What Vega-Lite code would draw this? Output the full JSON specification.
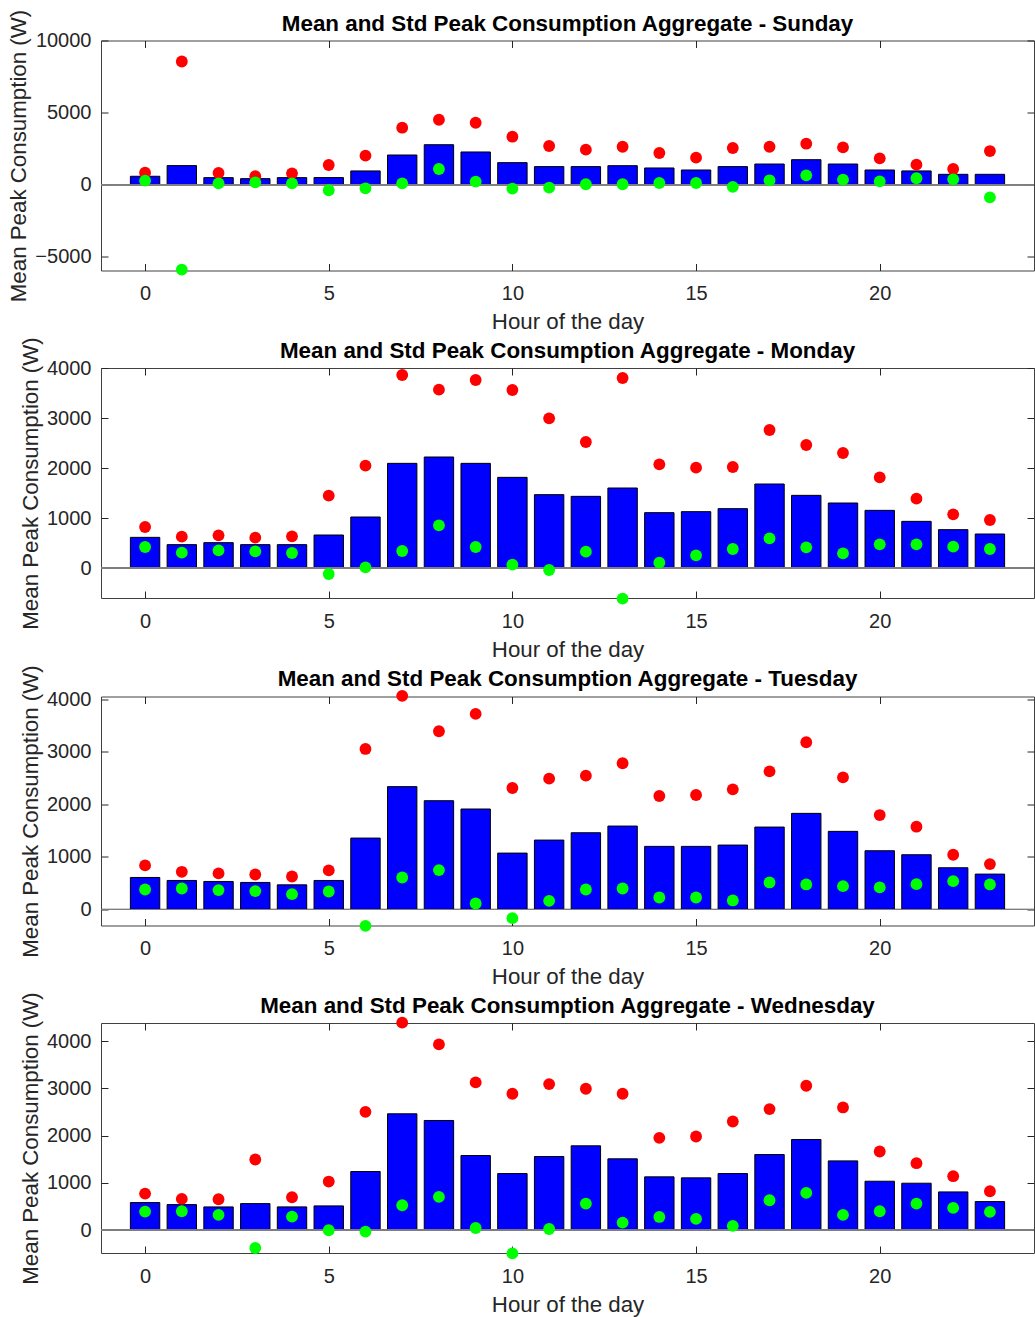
{
  "$schema": "https://vega.github.io/schema/vega-lite/v6.json",
  "padding": {"left": 7, "top": 8.5, "right": 0, "bottom": 0},
  "spacing": 2.5,
  "config": {
    "font": "Liberation Sans",
    "view": {"stroke": "#404040", "strokeWidth": 1},
    "axis": {"grid": false, "domain": false, "tickColor": "#262626", "tickSize": -7, "format": "d", "labelFont": "Liberation Sans", "labelFontSize": 20, "labelColor": "#262626", "titleFont": "Liberation Sans", "titleFontSize": 22.3, "titleFontWeight": "normal", "titleColor": "#262626"},
    "title": {"font": "Liberation Sans", "fontSize": 22.4, "fontWeight": "bold", "color": "#000000", "offset": -26}
  },
  "datasets": {
    "peak": [
      {"day": "Sunday", "hour": 0, "mean": 580, "hi": 830, "lo": 275},
      {"day": "Sunday", "hour": 1, "mean": 1320, "hi": 8545, "lo": -5900},
      {"day": "Sunday", "hour": 2, "mean": 485, "hi": 810, "lo": 90},
      {"day": "Sunday", "hour": 3, "mean": 415, "hi": 580, "lo": 160},
      {"day": "Sunday", "hour": 4, "mean": 485, "hi": 785, "lo": 90},
      {"day": "Sunday", "hour": 5, "mean": 490, "hi": 1360, "lo": -390},
      {"day": "Sunday", "hour": 6, "mean": 950, "hi": 2010, "lo": -255},
      {"day": "Sunday", "hour": 7, "mean": 2055, "hi": 3950, "lo": 90},
      {"day": "Sunday", "hour": 8, "mean": 2770, "hi": 4500, "lo": 1085},
      {"day": "Sunday", "hour": 9, "mean": 2265, "hi": 4295, "lo": 210},
      {"day": "Sunday", "hour": 10, "mean": 1525, "hi": 3325, "lo": -275},
      {"day": "Sunday", "hour": 11, "mean": 1250, "hi": 2680, "lo": -210},
      {"day": "Sunday", "hour": 12, "mean": 1250, "hi": 2425, "lo": 25},
      {"day": "Sunday", "hour": 13, "mean": 1315, "hi": 2630, "lo": 25},
      {"day": "Sunday", "hour": 14, "mean": 1155, "hi": 2195, "lo": 115},
      {"day": "Sunday", "hour": 15, "mean": 1015, "hi": 1870, "lo": 115},
      {"day": "Sunday", "hour": 16, "mean": 1250, "hi": 2540, "lo": -160},
      {"day": "Sunday", "hour": 17, "mean": 1430, "hi": 2630, "lo": 300},
      {"day": "Sunday", "hour": 18, "mean": 1730, "hi": 2840, "lo": 645},
      {"day": "Sunday", "hour": 19, "mean": 1430, "hi": 2585, "lo": 345},
      {"day": "Sunday", "hour": 20, "mean": 1015, "hi": 1825, "lo": 230},
      {"day": "Sunday", "hour": 21, "mean": 950, "hi": 1385, "lo": 440},
      {"day": "Sunday", "hour": 22, "mean": 715, "hi": 1085, "lo": 370},
      {"day": "Sunday", "hour": 23, "mean": 715, "hi": 2330, "lo": -880},
      {"day": "Monday", "hour": 0, "mean": 613, "hi": 820, "lo": 420},
      {"day": "Monday", "hour": 1, "mean": 467, "hi": 627, "lo": 307},
      {"day": "Monday", "hour": 2, "mean": 507, "hi": 653, "lo": 353},
      {"day": "Monday", "hour": 3, "mean": 467, "hi": 607, "lo": 333},
      {"day": "Monday", "hour": 4, "mean": 467, "hi": 633, "lo": 300},
      {"day": "Monday", "hour": 5, "mean": 660, "hi": 1447, "lo": -120},
      {"day": "Monday", "hour": 6, "mean": 1020, "hi": 2047, "lo": 13},
      {"day": "Monday", "hour": 7, "mean": 2093, "hi": 3860, "lo": 340},
      {"day": "Monday", "hour": 8, "mean": 2220, "hi": 3567, "lo": 853},
      {"day": "Monday", "hour": 9, "mean": 2093, "hi": 3760, "lo": 420},
      {"day": "Monday", "hour": 10, "mean": 1813, "hi": 3560, "lo": 67},
      {"day": "Monday", "hour": 11, "mean": 1467, "hi": 2993, "lo": -40},
      {"day": "Monday", "hour": 12, "mean": 1433, "hi": 2520, "lo": 327},
      {"day": "Monday", "hour": 13, "mean": 1600, "hi": 3800, "lo": -613},
      {"day": "Monday", "hour": 14, "mean": 1107, "hi": 2073, "lo": 107},
      {"day": "Monday", "hour": 15, "mean": 1127, "hi": 2007, "lo": 253},
      {"day": "Monday", "hour": 16, "mean": 1187, "hi": 2020, "lo": 380},
      {"day": "Monday", "hour": 17, "mean": 1680, "hi": 2760, "lo": 593},
      {"day": "Monday", "hour": 18, "mean": 1453, "hi": 2460, "lo": 413},
      {"day": "Monday", "hour": 19, "mean": 1300, "hi": 2300, "lo": 293},
      {"day": "Monday", "hour": 20, "mean": 1153, "hi": 1813, "lo": 473},
      {"day": "Monday", "hour": 21, "mean": 933, "hi": 1387, "lo": 473},
      {"day": "Monday", "hour": 22, "mean": 767, "hi": 1073, "lo": 427},
      {"day": "Monday", "hour": 23, "mean": 680, "hi": 960, "lo": 380},
      {"day": "Tuesday", "hour": 0, "mean": 610, "hi": 839, "lo": 381},
      {"day": "Tuesday", "hour": 1, "mean": 553, "hi": 718, "lo": 400},
      {"day": "Tuesday", "hour": 2, "mean": 534, "hi": 687, "lo": 369},
      {"day": "Tuesday", "hour": 3, "mean": 515, "hi": 667, "lo": 350},
      {"day": "Tuesday", "hour": 4, "mean": 470, "hi": 629, "lo": 292},
      {"day": "Tuesday", "hour": 5, "mean": 553, "hi": 744, "lo": 343},
      {"day": "Tuesday", "hour": 6, "mean": 1360, "hi": 3058, "lo": -311},
      {"day": "Tuesday", "hour": 7, "mean": 2340, "hi": 4069, "lo": 610},
      {"day": "Tuesday", "hour": 8, "mean": 2072, "hi": 3395, "lo": 750},
      {"day": "Tuesday", "hour": 9, "mean": 1914, "hi": 3725, "lo": 114},
      {"day": "Tuesday", "hour": 10, "mean": 1074, "hi": 2314, "lo": -165},
      {"day": "Tuesday", "hour": 11, "mean": 1322, "hi": 2492, "lo": 165},
      {"day": "Tuesday", "hour": 12, "mean": 1462, "hi": 2549, "lo": 381},
      {"day": "Tuesday", "hour": 13, "mean": 1589, "hi": 2785, "lo": 400},
      {"day": "Tuesday", "hour": 14, "mean": 1202, "hi": 2161, "lo": 229},
      {"day": "Tuesday", "hour": 15, "mean": 1202, "hi": 2181, "lo": 229},
      {"day": "Tuesday", "hour": 16, "mean": 1227, "hi": 2289, "lo": 172},
      {"day": "Tuesday", "hour": 17, "mean": 1570, "hi": 2632, "lo": 515},
      {"day": "Tuesday", "hour": 18, "mean": 1831, "hi": 3185, "lo": 477},
      {"day": "Tuesday", "hour": 19, "mean": 1488, "hi": 2517, "lo": 445},
      {"day": "Tuesday", "hour": 20, "mean": 1119, "hi": 1799, "lo": 420},
      {"day": "Tuesday", "hour": 21, "mean": 1043, "hi": 1577, "lo": 483},
      {"day": "Tuesday", "hour": 22, "mean": 795, "hi": 1043, "lo": 540},
      {"day": "Tuesday", "hour": 23, "mean": 674, "hi": 865, "lo": 477},
      {"day": "Wednesday", "hour": 0, "mean": 586, "hi": 776, "lo": 395},
      {"day": "Wednesday", "hour": 1, "mean": 543, "hi": 663, "lo": 402},
      {"day": "Wednesday", "hour": 2, "mean": 494, "hi": 656, "lo": 325},
      {"day": "Wednesday", "hour": 3, "mean": 564, "hi": 1496, "lo": -374},
      {"day": "Wednesday", "hour": 4, "mean": 494, "hi": 698, "lo": 289},
      {"day": "Wednesday", "hour": 5, "mean": 515, "hi": 1030, "lo": 0},
      {"day": "Wednesday", "hour": 6, "mean": 1242, "hi": 2504, "lo": -28},
      {"day": "Wednesday", "hour": 7, "mean": 2462, "hi": 4388, "lo": 529},
      {"day": "Wednesday", "hour": 8, "mean": 2321, "hi": 3929, "lo": 705},
      {"day": "Wednesday", "hour": 9, "mean": 1580, "hi": 3125, "lo": 49},
      {"day": "Wednesday", "hour": 10, "mean": 1199, "hi": 2885, "lo": -487},
      {"day": "Wednesday", "hour": 11, "mean": 1559, "hi": 3090, "lo": 28},
      {"day": "Wednesday", "hour": 12, "mean": 1785, "hi": 2991, "lo": 564},
      {"day": "Wednesday", "hour": 13, "mean": 1510, "hi": 2885, "lo": 162},
      {"day": "Wednesday", "hour": 14, "mean": 1129, "hi": 1954, "lo": 282},
      {"day": "Wednesday", "hour": 15, "mean": 1108, "hi": 1982, "lo": 240},
      {"day": "Wednesday", "hour": 16, "mean": 1199, "hi": 2300, "lo": 92},
      {"day": "Wednesday", "hour": 17, "mean": 1601, "hi": 2561, "lo": 635},
      {"day": "Wednesday", "hour": 18, "mean": 1919, "hi": 3055, "lo": 790},
      {"day": "Wednesday", "hour": 19, "mean": 1467, "hi": 2596, "lo": 325},
      {"day": "Wednesday", "hour": 20, "mean": 1037, "hi": 1665, "lo": 402},
      {"day": "Wednesday", "hour": 21, "mean": 995, "hi": 1418, "lo": 564},
      {"day": "Wednesday", "hour": 22, "mean": 811, "hi": 1143, "lo": 473},
      {"day": "Wednesday", "hour": 23, "mean": 607, "hi": 825, "lo": 388}
    ]
  },
  "vconcat": [
    {
      "title": "Mean and Std Peak Consumption Aggregate - Sunday",
      "width": 933, "height": 230,
      "data": {"name": "peak"},
      "transform": [{"filter": "datum.day === 'Sunday'"}],
      "resolve": {"axis": {"x": "independent", "y": "independent"}},
      "layer": [
        {"mark": {"type": "bar", "width": 29.4, "color": "#0000FF", "stroke": "#000000", "strokeWidth": 1},
         "encoding": {
           "x": {"field": "hour", "type": "quantitative", "scale": {"domain": [-1.2, 24.2], "nice": false, "zero": false, "padding": 0}, "axis": {"values": [0, 5, 10, 15, 20], "title": "Hour of the day", "labelPadding": 20, "titlePadding": 7}},
           "y": {"field": "mean", "type": "quantitative", "scale": {"domain": [-5958, 10000], "nice": false, "zero": false}, "axis": {"values": [-5000, 0, 5000, 10000], "title": "Mean Peak Consumption (W)", "labelPadding": 17, "titlePadding": 4}}}},
        {"mark": {"type": "rule", "color": "#7f7f7f", "strokeWidth": 1}, "encoding": {"y": {"datum": 0, "type": "quantitative", "axis": null}}},
        {"mark": {"type": "point", "filled": true, "opacity": 1, "color": "#FF0000", "size": 140},
         "encoding": {"x": {"field": "hour", "type": "quantitative", "axis": null}, "y": {"field": "hi", "type": "quantitative", "axis": null}}},
        {"mark": {"type": "point", "filled": true, "opacity": 1, "color": "#00FF00", "size": 140},
         "encoding": {
           "x": {"field": "hour", "type": "quantitative", "axis": {"orient": "top", "values": [0, 5, 10, 15, 20], "labels": false, "title": null}},
           "y": {"field": "lo", "type": "quantitative", "axis": {"orient": "right", "values": [-5000, 0, 5000, 10000], "labels": false, "title": null}}}}
      ]
    },
    {
      "title": "Mean and Std Peak Consumption Aggregate - Monday",
      "width": 933, "height": 230,
      "data": {"name": "peak"},
      "transform": [{"filter": "datum.day === 'Monday'"}],
      "resolve": {"axis": {"x": "independent", "y": "independent"}},
      "layer": [
        {"mark": {"type": "bar", "width": 29.4, "color": "#0000FF", "stroke": "#000000", "strokeWidth": 1},
         "encoding": {
           "x": {"field": "hour", "type": "quantitative", "scale": {"domain": [-1.2, 24.2], "nice": false, "zero": false, "padding": 0}, "axis": {"values": [0, 5, 10, 15, 20], "title": "Hour of the day", "labelPadding": 20, "titlePadding": 7}},
           "y": {"field": "mean", "type": "quantitative", "scale": {"domain": [-600, 4000], "nice": false, "zero": false}, "axis": {"values": [0, 1000, 2000, 3000, 4000], "title": "Mean Peak Consumption (W)", "labelPadding": 17, "titlePadding": 4}}}},
        {"mark": {"type": "rule", "color": "#7f7f7f", "strokeWidth": 1}, "encoding": {"y": {"datum": 0, "type": "quantitative", "axis": null}}},
        {"mark": {"type": "point", "filled": true, "opacity": 1, "color": "#FF0000", "size": 140},
         "encoding": {"x": {"field": "hour", "type": "quantitative", "axis": null}, "y": {"field": "hi", "type": "quantitative", "axis": null}}},
        {"mark": {"type": "point", "filled": true, "opacity": 1, "color": "#00FF00", "size": 140},
         "encoding": {
           "x": {"field": "hour", "type": "quantitative", "axis": {"orient": "top", "values": [0, 5, 10, 15, 20], "labels": false, "title": null}},
           "y": {"field": "lo", "type": "quantitative", "axis": {"orient": "right", "values": [0, 1000, 2000, 3000, 4000], "labels": false, "title": null}}}}
      ]
    },
    {
      "title": "Mean and Std Peak Consumption Aggregate - Tuesday",
      "width": 933, "height": 229,
      "data": {"name": "peak"},
      "transform": [{"filter": "datum.day === 'Tuesday'"}],
      "resolve": {"axis": {"x": "independent", "y": "independent"}},
      "layer": [
        {"mark": {"type": "bar", "width": 29.4, "color": "#0000FF", "stroke": "#000000", "strokeWidth": 1},
         "encoding": {
           "x": {"field": "hour", "type": "quantitative", "scale": {"domain": [-1.2, 24.2], "nice": false, "zero": false, "padding": 0}, "axis": {"values": [0, 5, 10, 15, 20], "title": "Hour of the day", "labelPadding": 20, "titlePadding": 7}},
           "y": {"field": "mean", "type": "quantitative", "scale": {"domain": [-305, 4057], "nice": false, "zero": false}, "axis": {"values": [0, 1000, 2000, 3000, 4000], "title": "Mean Peak Consumption (W)", "labelPadding": 17, "titlePadding": 4}}}},
        {"mark": {"type": "rule", "color": "#7f7f7f", "strokeWidth": 1}, "encoding": {"y": {"datum": 0, "type": "quantitative", "axis": null}}},
        {"mark": {"type": "point", "filled": true, "opacity": 1, "color": "#FF0000", "size": 140},
         "encoding": {"x": {"field": "hour", "type": "quantitative", "axis": null}, "y": {"field": "hi", "type": "quantitative", "axis": null}}},
        {"mark": {"type": "point", "filled": true, "opacity": 1, "color": "#00FF00", "size": 140},
         "encoding": {
           "x": {"field": "hour", "type": "quantitative", "axis": {"orient": "top", "values": [0, 5, 10, 15, 20], "labels": false, "title": null}},
           "y": {"field": "lo", "type": "quantitative", "axis": {"orient": "right", "values": [0, 1000, 2000, 3000, 4000], "labels": false, "title": null}}}}
      ]
    },
    {
      "title": "Mean and Std Peak Consumption Aggregate - Wednesday",
      "width": 933, "height": 230,
      "data": {"name": "peak"},
      "transform": [{"filter": "datum.day === 'Wednesday'"}],
      "resolve": {"axis": {"x": "independent", "y": "independent"}},
      "layer": [
        {"mark": {"type": "bar", "width": 29.4, "color": "#0000FF", "stroke": "#000000", "strokeWidth": 1},
         "encoding": {
           "x": {"field": "hour", "type": "quantitative", "scale": {"domain": [-1.2, 24.2], "nice": false, "zero": false, "padding": 0}, "axis": {"values": [0, 5, 10, 15, 20], "title": "Hour of the day", "labelPadding": 20, "titlePadding": 7}},
           "y": {"field": "mean", "type": "quantitative", "scale": {"domain": [-480, 4381], "nice": false, "zero": false}, "axis": {"values": [0, 1000, 2000, 3000, 4000], "title": "Mean Peak Consumption (W)", "labelPadding": 17, "titlePadding": 4}}}},
        {"mark": {"type": "rule", "color": "#7f7f7f", "strokeWidth": 1}, "encoding": {"y": {"datum": 0, "type": "quantitative", "axis": null}}},
        {"mark": {"type": "point", "filled": true, "opacity": 1, "color": "#FF0000", "size": 140},
         "encoding": {"x": {"field": "hour", "type": "quantitative", "axis": null}, "y": {"field": "hi", "type": "quantitative", "axis": null}}},
        {"mark": {"type": "point", "filled": true, "opacity": 1, "color": "#00FF00", "size": 140},
         "encoding": {
           "x": {"field": "hour", "type": "quantitative", "axis": {"orient": "top", "values": [0, 5, 10, 15, 20], "labels": false, "title": null}},
           "y": {"field": "lo", "type": "quantitative", "axis": {"orient": "right", "values": [0, 1000, 2000, 3000, 4000], "labels": false, "title": null}}}}
      ]
    }
  ]
}
